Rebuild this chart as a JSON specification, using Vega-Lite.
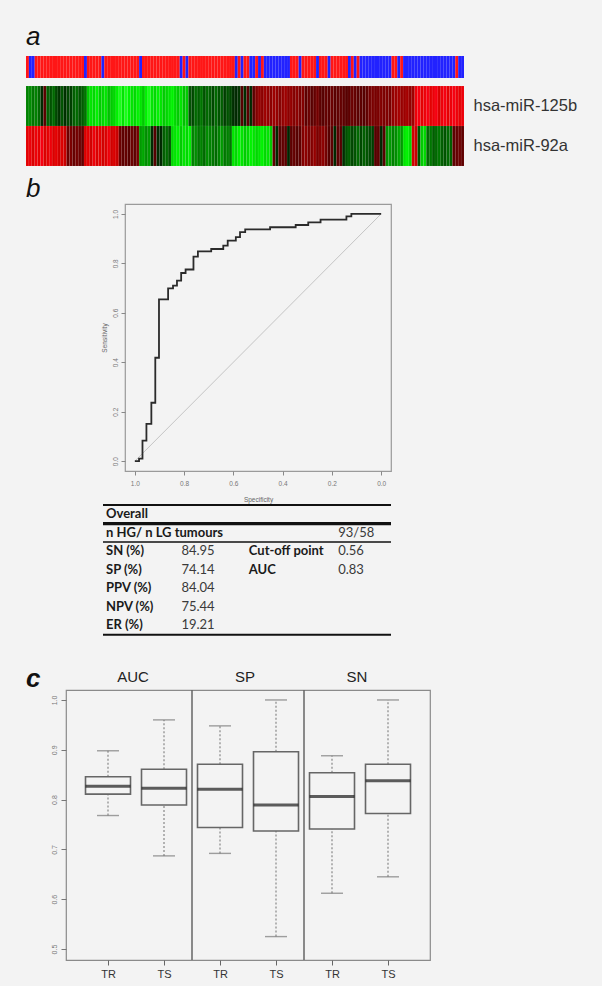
{
  "$schema": "https://vega.github.io/schema/vega-lite/v6.json",
  "background": "#f3f3f3",
  "padding": {"left": 25, "top": 24, "right": 28, "bottom": 6},
  "spacing": 9,
  "config": {
    "view": {"stroke": null},
    "font": "Liberation Sans",
    "title": {"font": "Liberation Sans", "fontStyle": "italic", "fontSize": 26, "fontWeight": "normal", "anchor": "start", "color": "#111111"}
  },
  "datasets": {
    "samples": [
      {"s":0,"g":"HG","125b":-1.0,"92a":1.7},{"s":1,"g":"LG","125b":-1.1,"92a":1.8},{"s":2,"g":"LG","125b":-0.9,"92a":1.6},{"s":3,"g":"HG","125b":-1.0,"92a":1.8},{"s":4,"g":"HG","125b":-0.8,"92a":1.7},
      {"s":5,"g":"HG","125b":-0.1,"92a":1.9},{"s":6,"g":"HG","125b":0.05,"92a":1.6},{"s":7,"g":"HG","125b":-0.7,"92a":1.7},{"s":8,"g":"HG","125b":-0.6,"92a":1.8},{"s":9,"g":"HG","125b":-0.8,"92a":1.6},
      {"s":10,"g":"HG","125b":-0.5,"92a":1.7},{"s":11,"g":"HG","125b":-0.3,"92a":1.5},{"s":12,"g":"HG","125b":-0.6,"92a":1.6},{"s":13,"g":"HG","125b":-0.2,"92a":1.4},{"s":14,"g":"HG","125b":-0.5,"92a":0.3},
      {"s":15,"g":"HG","125b":-0.4,"92a":0.5},{"s":16,"g":"HG","125b":-0.7,"92a":0.2},{"s":17,"g":"HG","125b":-0.8,"92a":0.4},{"s":18,"g":"HG","125b":-0.6,"92a":0.3},{"s":19,"g":"HG","125b":-0.7,"92a":0.2},
      {"s":20,"g":"LG","125b":-0.9,"92a":1.6},{"s":21,"g":"HG","125b":-1.6,"92a":1.7},{"s":22,"g":"HG","125b":-1.8,"92a":1.5},{"s":23,"g":"HG","125b":-1.7,"92a":1.8},{"s":24,"g":"HG","125b":-1.9,"92a":1.6},
      {"s":25,"g":"HG","125b":-1.6,"92a":1.7},{"s":26,"g":"LG","125b":-1.7,"92a":1.5},{"s":27,"g":"HG","125b":-1.8,"92a":1.6},{"s":28,"g":"HG","125b":-1.5,"92a":1.8},{"s":29,"g":"HG","125b":-1.6,"92a":1.5},
      {"s":30,"g":"HG","125b":-1.7,"92a":1.6},{"s":31,"g":"HG","125b":-1.9,"92a":1.4},{"s":32,"g":"HG","125b":-2.0,"92a":0.3},{"s":33,"g":"HG","125b":-1.8,"92a":0.1},{"s":34,"g":"HG","125b":-2.0,"92a":0.2},
      {"s":35,"g":"HG","125b":-1.9,"92a":0.0},{"s":36,"g":"HG","125b":-1.8,"92a":0.3},{"s":37,"g":"HG","125b":-1.7,"92a":0.1},{"s":38,"g":"HG","125b":-1.9,"92a":0.4},{"s":39,"g":"LG","125b":-1.8,"92a":-1.2},
      {"s":40,"g":"HG","125b":-1.6,"92a":-1.3},{"s":41,"g":"HG","125b":-1.9,"92a":-1.1},{"s":42,"g":"HG","125b":-2.0,"92a":-1.2},{"s":43,"g":"HG","125b":-1.8,"92a":-0.1},{"s":44,"g":"HG","125b":-1.7,"92a":0.0},
      {"s":45,"g":"HG","125b":-1.9,"92a":-0.15},{"s":46,"g":"HG","125b":-1.8,"92a":-0.05},{"s":47,"g":"HG","125b":-1.6,"92a":-0.7},{"s":48,"g":"HG","125b":-1.7,"92a":-0.8},{"s":49,"g":"HG","125b":-1.8,"92a":-0.6},
      {"s":50,"g":"HG","125b":-1.9,"92a":-1.7},{"s":51,"g":"HG","125b":-1.7,"92a":-1.8},{"s":52,"g":"HG","125b":-1.6,"92a":-1.9},{"s":53,"g":"LG","125b":-1.8,"92a":-1.6},{"s":54,"g":"HG","125b":-1.5,"92a":-1.8},
      {"s":55,"g":"LG","125b":-1.6,"92a":-1.7},{"s":56,"g":"HG","125b":-0.6,"92a":-1.9},{"s":57,"g":"HG","125b":-0.5,"92a":-1.0},{"s":58,"g":"HG","125b":-0.8,"92a":-1.1},{"s":59,"g":"HG","125b":-0.7,"92a":-0.9},
      {"s":60,"g":"HG","125b":-0.9,"92a":-1.0},{"s":61,"g":"HG","125b":-0.6,"92a":-0.8},{"s":62,"g":"HG","125b":-0.8,"92a":-1.1},{"s":63,"g":"HG","125b":-0.7,"92a":-1.0},{"s":64,"g":"HG","125b":-0.5,"92a":-0.9},
      {"s":65,"g":"HG","125b":-0.8,"92a":-0.8},{"s":66,"g":"HG","125b":-0.6,"92a":-1.0},{"s":67,"g":"HG","125b":-0.7,"92a":-1.2},{"s":68,"g":"HG","125b":-0.4,"92a":-0.9},{"s":69,"g":"HG","125b":-0.6,"92a":-1.0},
      {"s":70,"g":"HG","125b":-0.5,"92a":-0.9},{"s":71,"g":"HG","125b":-0.2,"92a":-1.8},{"s":72,"g":"LG","125b":-0.1,"92a":-1.7},{"s":73,"g":"HG","125b":-0.3,"92a":-1.9},{"s":74,"g":"LG","125b":0.0,"92a":-1.8},
      {"s":75,"g":"HG","125b":-0.2,"92a":-1.6},{"s":76,"g":"HG","125b":0.05,"92a":-1.7},{"s":77,"g":"LG","125b":-0.1,"92a":-1.9},{"s":78,"g":"LG","125b":0.1,"92a":-1.8},{"s":79,"g":"HG","125b":0.6,"92a":-1.7},
      {"s":80,"g":"LG","125b":0.8,"92a":-1.8},{"s":81,"g":"HG","125b":0.7,"92a":-1.9},{"s":82,"g":"LG","125b":0.9,"92a":-1.7},{"s":83,"g":"LG","125b":0.8,"92a":-1.8},{"s":84,"g":"LG","125b":0.7,"92a":-1.6},
      {"s":85,"g":"LG","125b":0.9,"92a":0.1},{"s":86,"g":"LG","125b":0.8,"92a":-0.1},{"s":87,"g":"LG","125b":0.6,"92a":0.0},{"s":88,"g":"LG","125b":0.8,"92a":0.15},{"s":89,"g":"LG","125b":0.9,"92a":0.05},
      {"s":90,"g":"LG","125b":0.7,"92a":-0.05},{"s":91,"g":"HG","125b":0.8,"92a":0.1},{"s":92,"g":"HG","125b":0.6,"92a":0.2},{"s":93,"g":"HG","125b":0.7,"92a":0.0},{"s":94,"g":"LG","125b":0.5,"92a":0.1},
      {"s":95,"g":"HG","125b":0.6,"92a":0.6},{"s":96,"g":"HG","125b":0.1,"92a":0.7},{"s":97,"g":"HG","125b":0.3,"92a":0.5},{"s":98,"g":"HG","125b":0.05,"92a":0.6},{"s":99,"g":"HG","125b":0.2,"92a":0.8},
      {"s":100,"g":"LG","125b":0.4,"92a":0.5},{"s":101,"g":"HG","125b":0.1,"92a":0.6},{"s":102,"g":"HG","125b":0.0,"92a":0.7},{"s":103,"g":"HG","125b":0.2,"92a":0.4},{"s":104,"g":"LG","125b":0.1,"92a":0.0},
      {"s":105,"g":"HG","125b":0.3,"92a":0.1},{"s":106,"g":"HG","125b":0.05,"92a":-0.1},{"s":107,"g":"HG","125b":0.15,"92a":0.05},{"s":108,"g":"HG","125b":0.2,"92a":0.0},{"s":109,"g":"HG","125b":0.1,"92a":-0.2},
      {"s":110,"g":"HG","125b":0.0,"92a":-0.6},{"s":111,"g":"LG","125b":0.1,"92a":-0.7},{"s":112,"g":"HG","125b":0.3,"92a":-0.5},{"s":113,"g":"LG","125b":0.2,"92a":-0.6},{"s":114,"g":"HG","125b":0.05,"92a":-0.8},
      {"s":115,"g":"LG","125b":0.1,"92a":-0.5},{"s":116,"g":"LG","125b":0.0,"92a":-0.7},{"s":117,"g":"LG","125b":0.15,"92a":-0.6},{"s":118,"g":"LG","125b":0.4,"92a":-0.5},{"s":119,"g":"LG","125b":0.5,"92a":-0.4},
      {"s":120,"g":"LG","125b":0.45,"92a":0.0},{"s":121,"g":"LG","125b":0.5,"92a":0.1},{"s":122,"g":"LG","125b":0.6,"92a":-0.05},{"s":123,"g":"LG","125b":0.5,"92a":0.0},{"s":124,"g":"LG","125b":0.55,"92a":-1.1},
      {"s":125,"g":"LG","125b":0.45,"92a":-1.2},{"s":126,"g":"HG","125b":0.8,"92a":-1.0},{"s":127,"g":"HG","125b":0.9,"92a":-1.1},{"s":128,"g":"LG","125b":1.0,"92a":-1.3},{"s":129,"g":"HG","125b":0.85,"92a":-1.2},
      {"s":130,"g":"LG","125b":0.9,"92a":-1.8},{"s":131,"g":"LG","125b":1.0,"92a":-1.9},{"s":132,"g":"LG","125b":0.8,"92a":-1.7},{"s":133,"g":"LG","125b":0.9,"92a":1.5},{"s":134,"g":"LG","125b":1.8,"92a":1.4},
      {"s":135,"g":"LG","125b":1.9,"92a":-0.6},{"s":136,"g":"LG","125b":1.7,"92a":-1.6},{"s":137,"g":"LG","125b":1.8,"92a":-1.7},{"s":138,"g":"LG","125b":1.9,"92a":-0.8},{"s":139,"g":"LG","125b":1.7,"92a":-0.9},
      {"s":140,"g":"LG","125b":1.8,"92a":-0.7},{"s":141,"g":"LG","125b":1.9,"92a":-0.8},{"s":142,"g":"LG","125b":1.6,"92a":-0.9},{"s":143,"g":"LG","125b":1.8,"92a":-0.7},{"s":144,"g":"LG","125b":1.9,"92a":-0.6},
      {"s":145,"g":"LG","125b":1.7,"92a":-0.8},{"s":146,"g":"LG","125b":1.8,"92a":-0.7},{"s":147,"g":"LG","125b":1.9,"92a":0.1},{"s":148,"g":"HG","125b":1.8,"92a":0.2},{"s":149,"g":"LG","125b":1.7,"92a":0.3},
      {"s":150,"g":"LG","125b":1.8,"92a":0.15}
    ],
    "roc": [
      {"spec":1.0,"sens":0.0},{"spec":0.983,"sens":0.01},{"spec":0.969,"sens":0.083},{"spec":0.953,"sens":0.151},
      {"spec":0.933,"sens":0.236},{"spec":0.917,"sens":0.418},{"spec":0.902,"sens":0.654},{"spec":0.865,"sens":0.699},
      {"spec":0.845,"sens":0.71},{"spec":0.829,"sens":0.73},{"spec":0.812,"sens":0.761},{"spec":0.794,"sens":0.775},
      {"spec":0.762,"sens":0.827},{"spec":0.744,"sens":0.848},{"spec":0.69,"sens":0.858},{"spec":0.641,"sens":0.872},
      {"spec":0.623,"sens":0.892},{"spec":0.59,"sens":0.906},{"spec":0.573,"sens":0.926},{"spec":0.552,"sens":0.937},
      {"spec":0.451,"sens":0.946},{"spec":0.347,"sens":0.955},{"spec":0.296,"sens":0.966},{"spec":0.246,"sens":0.977},
      {"spec":0.141,"sens":0.99},{"spec":0.121,"sens":1.0},{"spec":0.0,"sens":1.0}
    ],
    "tbl": [
      {"row":"Overall","col":"A","txt":"Overall"},
      {"row":"nHG","col":"A","txt":"n HG/ n LG tumours"},{"row":"nHG","col":"D","txt":"93/58"},
      {"row":"SN","col":"A","txt":"SN (%)"},{"row":"SN","col":"B","txt":"84.95"},{"row":"SN","col":"C","txt":"Cut-off point"},{"row":"SN","col":"D","txt":"0.56"},
      {"row":"SP","col":"A","txt":"SP (%)"},{"row":"SP","col":"B","txt":"74.14"},{"row":"SP","col":"C","txt":"AUC"},{"row":"SP","col":"D","txt":"0.83"},
      {"row":"PPV","col":"A","txt":"PPV (%)"},{"row":"PPV","col":"B","txt":"84.04"},
      {"row":"NPV","col":"A","txt":"NPV (%)"},{"row":"NPV","col":"B","txt":"75.44"},
      {"row":"ER","col":"A","txt":"ER (%)"},{"row":"ER","col":"B","txt":"19.21"}
    ],
    "box": [
      {"grp":"AUC TR","lo":0.768,"q1":0.811,"med":0.827,"q3":0.846,"hi":0.898},
      {"grp":"AUC TS","lo":0.687,"q1":0.789,"med":0.823,"q3":0.861,"hi":0.96},
      {"grp":"SP TR","lo":0.692,"q1":0.744,"med":0.821,"q3":0.871,"hi":0.948},
      {"grp":"SP TS","lo":0.525,"q1":0.737,"med":0.789,"q3":0.896,"hi":1.0},
      {"grp":"SN TR","lo":0.612,"q1":0.741,"med":0.806,"q3":0.854,"hi":0.888},
      {"grp":"SN TS","lo":0.645,"q1":0.772,"med":0.838,"q3":0.871,"hi":1.0}
    ]
  },
  "vconcat": [
    {
      "spacing": 7,
      "vconcat": [
        {
          "title": {"text": "a", "offset": 6},
          "data": {"name": "samples"},
          "width": 438,
          "height": 22,
          "mark": {"type": "rect"},
          "encoding": {
            "x": {"field": "s", "type": "ordinal", "axis": null, "scale": {"paddingInner": 0, "paddingOuter": 0}},
            "color": {"field": "g", "type": "nominal", "legend": null, "scale": {"domain": ["HG", "LG"], "range": ["#ff1616", "#2222ff"]}}
          }
        },
        {
          "data": {"name": "samples"},
          "transform": [{"fold": ["125b", "92a"], "as": ["mir", "v"]}],
          "width": 438,
          "height": 80,
          "mark": {"type": "rect", "stroke": "#ffffff", "strokeOpacity": 0.12, "strokeWidth": 0.4},
          "encoding": {
            "x": {"field": "s", "type": "ordinal", "axis": null, "scale": {"paddingInner": 0, "paddingOuter": 0}},
            "y": {"field": "mir", "type": "nominal", "scale": {"domain": ["125b", "92a"], "paddingInner": 0, "paddingOuter": 0},
                  "axis": {"orient": "right", "title": null, "ticks": false, "domain": false, "labelExpr": "'hsa-miR-' + datum.label", "labelFontSize": 16.5, "labelPadding": 9, "labelColor": "#333333", "labelFont": "Liberation Sans"}},
            "color": {"field": "v", "type": "quantitative", "legend": null, "scale": {"domain": [-2, 0, 2], "range": ["#18ff18", "#000000", "#ff1818"], "clamp": true}}
          }
        }
      ]
    },
    {
      "spacing": 0,
      "vconcat": [
        {
          "spacing": 0,
          "hconcat": [
            {
              "title": {"text": "b", "offset": 2},
              "width": 74,
              "height": 1,
              "data": {"values": []},
              "mark": "point"
            },
            {
              "width": 266,
              "height": 267,
              "view": {"stroke": "#9a9a9a", "strokeWidth": 1.2},
              "encoding": {
                "x": {"field": "spec", "type": "quantitative", "scale": {"domain": [-0.04, 1.04], "reverse": true, "nice": false, "zero": false},
                      "axis": {"title": "Specificity", "values": [0, 0.2, 0.4, 0.6, 0.8, 1], "format": ".1f", "grid": false, "domain": false, "tickSize": 4, "tickColor": "#888888", "labelColor": "#777777", "labelFontSize": 6.5, "labelPadding": 5, "labelFlush": false, "titleFontSize": 6.5, "titleFontWeight": "normal", "titleColor": "#666666", "titlePadding": 10}},
                "y": {"field": "sens", "type": "quantitative", "scale": {"domain": [-0.04, 1.04], "nice": false, "zero": false},
                      "axis": {"title": "Sensitivity", "values": [0, 0.2, 0.4, 0.6, 0.8, 1], "format": ".1f", "grid": false, "domain": false, "tickSize": 4, "tickColor": "#888888", "labelColor": "#777777", "labelFontSize": 6.5, "labelAngle": 270, "labelPadding": 3, "labelFlush": false, "titleFontSize": 6.5, "titleFontWeight": "normal", "titleColor": "#666666", "titlePadding": 5}}
              },
              "layer": [
                {
                  "data": {"values": [{"spec": 1, "sens": 0}, {"spec": 0, "sens": 1}]},
                  "mark": {"type": "line", "color": "#c4c4c4", "strokeWidth": 1}
                },
                {
                  "data": {"name": "roc"},
                  "mark": {"type": "line", "interpolate": "step-after", "color": "#2b2b2b", "strokeWidth": 1.8},
                  "encoding": {"order": {"field": "spec", "sort": "descending"}}
                }
              ]
            }
          ]
        },
        {
          "spacing": 0,
          "hconcat": [
            {
              "width": 75,
              "height": 1,
              "data": {"values": []},
              "mark": "point"
            },
            {
              "data": {"name": "tbl"},
              "width": 288,
              "height": 152,
              "encoding": {
                "x": {"field": "col", "type": "nominal", "axis": null, "scale": {"type": "point", "domain": ["A", "B", "C", "D"], "padding": 0.385, "align": 0}},
                "y": {"field": "row", "type": "nominal", "axis": null, "scale": {"domain": ["Overall", "nHG", "SN", "SP", "PPV", "NPV", "ER"], "paddingInner": 0, "paddingOuter": 0.6, "align": 0}},
                "text": {"field": "txt"}
              },
              "layer": [
                {
                  "transform": [{"filter": "datum.col === 'A'"}],
                  "mark": {"type": "text", "align": "left", "baseline": "middle", "fontWeight": "bold", "fontSize": 13, "font": "Lato", "color": "#1a1a1a", "dx": 3}
                },
                {
                  "transform": [{"filter": "datum.col === 'C'"}],
                  "mark": {"type": "text", "align": "left", "baseline": "middle", "fontWeight": "bold", "fontSize": 13, "font": "Lato", "color": "#1a1a1a", "dx": -7}
                },
                {
                  "transform": [{"filter": "datum.col === 'B'"}],
                  "mark": {"type": "text", "align": "left", "baseline": "middle", "fontWeight": "normal", "fontSize": 13, "font": "Lato", "color": "#3a3a3a", "dx": 2}
                },
                {
                  "transform": [{"filter": "datum.col === 'D'"}],
                  "mark": {"type": "text", "align": "left", "baseline": "middle", "fontWeight": "normal", "fontSize": 13, "font": "Lato", "color": "#3a3a3a", "dx": 6}
                },
                {
                  "transform": [{"filter": "datum.row === 'Overall' && datum.col === 'A'"}],
                  "mark": {"type": "rule", "color": "#111111", "strokeWidth": 2},
                  "encoding": {"x": null, "text": null, "y": {"field": "row", "type": "nominal", "bandPosition": 0, "axis": null}}
                },
                {
                  "transform": [{"filter": "datum.row === 'nHG' && datum.col === 'A'"}],
                  "mark": {"type": "rule", "color": "#111111", "strokeWidth": 3.2},
                  "encoding": {"x": null, "text": null, "y": {"field": "row", "type": "nominal", "bandPosition": 0, "axis": null}}
                },
                {
                  "transform": [{"filter": "datum.row === 'SN' && datum.col === 'A'"}],
                  "mark": {"type": "rule", "color": "#111111", "strokeWidth": 1.6},
                  "encoding": {"x": null, "text": null, "y": {"field": "row", "type": "nominal", "bandPosition": 0, "axis": null}}
                },
                {
                  "transform": [{"filter": "datum.row === 'ER' && datum.col === 'A'"}],
                  "mark": {"type": "rule", "color": "#111111", "strokeWidth": 2},
                  "encoding": {"x": null, "text": null, "y": {"field": "row", "type": "nominal", "bandPosition": 1, "axis": null}}
                }
              ]
            }
          ]
        }
      ]
    },
    {
      "spacing": 0,
      "hconcat": [
        {
          "title": {"text": "c", "offset": -2, "fontWeight": "bold"},
          "width": 23,
          "height": 1,
          "data": {"values": []},
          "mark": "point"
        },
        {
          "data": {"name": "box"},
          "width": 364,
          "height": 270,
          "view": {"stroke": "#8a8a8a", "strokeWidth": 1.2},
          "encoding": {
            "x": {"field": "grp", "type": "nominal", "scale": {"type": "point", "domain": ["AUC TR", "AUC TS", "SP TR", "SP TS", "SN TR", "SN TS"], "padding": 0.75},
                  "axis": {"title": null, "labelExpr": "slice(datum.label, -2)", "labelAngle": 0, "labelFontSize": 11, "labelColor": "#333333", "tickColor": "#666666", "tickSize": 5, "domain": false, "labelPadding": 3}}
          },
          "layer": [
            {
              "mark": {"type": "rule", "color": "#888888", "strokeWidth": 1.2, "strokeDash": [2, 2]},
              "encoding": {
                "y": {"field": "q3", "type": "quantitative", "scale": {"domain": [0.478, 1.02], "nice": false, "zero": false},
                      "axis": {"title": null, "values": [0.5, 0.6, 0.7, 0.8, 0.9, 1.0], "format": ".1f", "labelAngle": 270, "labelFontSize": 7, "labelColor": "#777777", "tickColor": "#777777", "tickSize": 5, "grid": false, "domain": false, "labelPadding": 4}},
                "y2": {"field": "hi"}
              }
            },
            {
              "mark": {"type": "rule", "color": "#888888", "strokeWidth": 1.2, "strokeDash": [2, 2]},
              "encoding": {"y": {"field": "lo", "type": "quantitative"}, "y2": {"field": "q1"}}
            },
            {
              "mark": {"type": "tick", "color": "#777777", "size": 22, "thickness": 1.4},
              "encoding": {"y": {"field": "hi", "type": "quantitative"}}
            },
            {
              "mark": {"type": "tick", "color": "#777777", "size": 22, "thickness": 1.4},
              "encoding": {"y": {"field": "lo", "type": "quantitative"}}
            },
            {
              "mark": {"type": "bar", "size": 45, "fill": "#f3f3f3", "stroke": "#666666", "strokeWidth": 1.6},
              "encoding": {"y": {"field": "q1", "type": "quantitative"}, "y2": {"field": "q3"}}
            },
            {
              "mark": {"type": "tick", "color": "#1a1a1a", "size": 45, "thickness": 3},
              "encoding": {"y": {"field": "med", "type": "quantitative"}}
            },
            {
              "data": {"values": [{"after": "AUC TS"}, {"after": "SP TS"}]},
              "mark": {"type": "rule", "color": "#666666", "strokeWidth": 1.5, "xOffset": 28},
              "encoding": {"x": {"field": "after", "type": "nominal"}}
            },
            {
              "data": {"values": [{"grp": "AUC TR", "metric": "AUC"}, {"grp": "SP TR", "metric": "SP"}, {"grp": "SN TR", "metric": "SN"}]},
              "mark": {"type": "text", "fontSize": 15, "color": "#222222", "baseline": "middle", "dx": 25},
              "encoding": {"y": {"datum": 1.046}, "text": {"field": "metric"}}
            }
          ]
        }
      ]
    }
  ]
}
